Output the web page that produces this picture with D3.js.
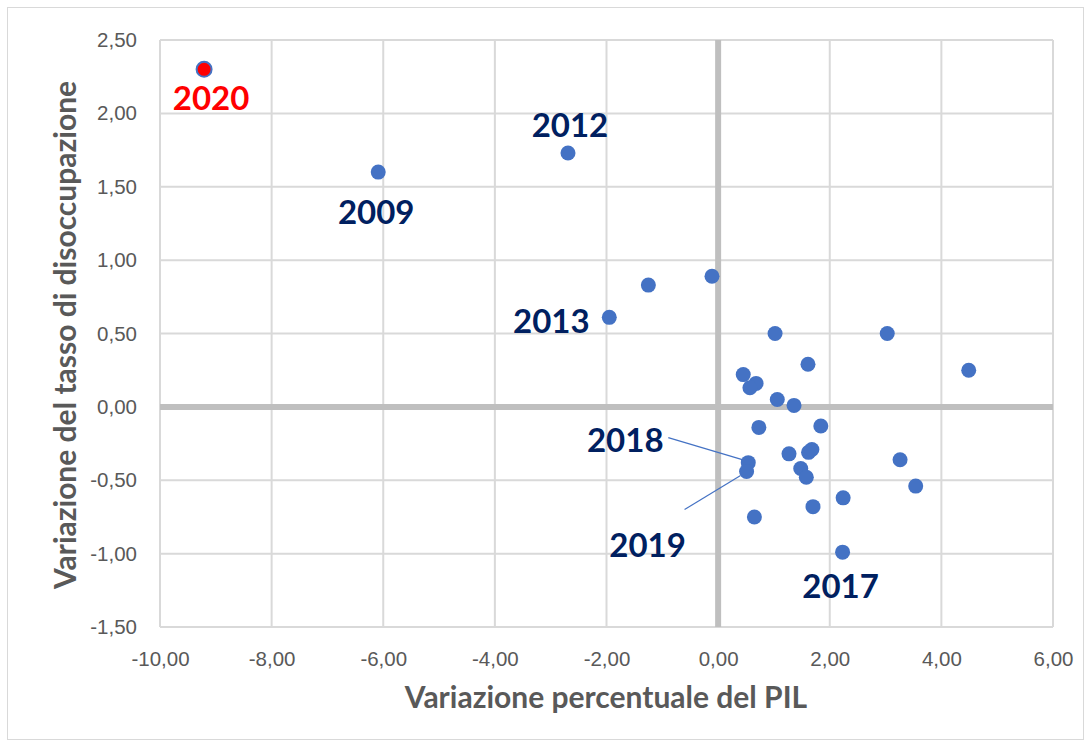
<!DOCTYPE html>
<html lang="it">
<head>
    <meta charset="UTF-8">
    <title>PIL e disoccupazione</title>
    <script src="https://d3js.org/d3.v7.min.js"></script>
    <style>
        body { margin: 0; background: #fff; font-family: Lato, "Open Sans", sans-serif; }
        svg { display: block; }
        .tick text { fill: #595959; font-size: 20.5px; }
        .axis-title { fill: #595959; font-size: 30px; font-weight: bold; }
        .year { font-size: 33px; font-weight: bold; fill: #002060; }
    </style>
</head>
<body>
    <div id="container"></div>
    <script>
        // variazione percentuale del PIL (x) e variazione del tasso di disoccupazione (y)
        const gdpChange = [-9.21, -6.09, -2.69, -1.95, -1.25, -0.11,
            1.02, 3.03, 4.49, 1.61, 0.45, 0.68, 0.57, 1.06, 1.36,
            0.73, 1.84, 1.27, 1.62, 1.68, 0.54, 0.51, 1.48, 1.58,
            3.26, 3.54, 2.24, 1.70, 0.65, 2.23];
        const unempChange = [2.30, 1.60, 1.73, 0.61, 0.83, 0.89,
            0.50, 0.50, 0.25, 0.29, 0.22, 0.16, 0.13, 0.05, 0.01,
            -0.14, -0.13, -0.32, -0.31, -0.29, -0.38, -0.44, -0.42, -0.48,
            -0.36, -0.54, -0.62, -0.68, -0.75, -0.99];

        // anni evidenziati (indice del punto)
        const labelYears = ['2020', '2009', '2012', '2013', '2018', '2019', '2017'];
        const labelIndex = [0, 1, 2, 3, 20, 21, 29];

        const xTicks = [-10, -8, -6, -4, -2, 0, 2, 4, 6];
        const yTicks = [-1.5, -1, -0.5, 0, 0.5, 1, 1.5, 2, 2.5];

        const width = 1091, height = 747;
        const plot = { left: 160, right: 1053, top: 40, bottom: 627 };

        // label offsets relative to the point (text centre, baseline)
        const labelOffset = {
            '2020': [7, 41], '2009': [-2, 52], '2012': [2, -16], '2013': [-58, 16],
            '2018': [-123, -11], '2019': [-99, 86], '2017': [-2, 46]
        };
        // leader line start points, relative to the point
        const leaderStart = { '2018': [-80, -25], '2019': [-62, 38] };

        // italian style numbers with a plain hyphen for the minus sign
        const locale = d3.formatLocale({ decimal: ',', thousands: '.', grouping: [3], currency: ['€', ''], minus: '-' });
        const fmt = locale.format('.2f');

        const svg = d3.select('#container').append('svg')
            .attr('width', width)
            .attr('height', height);

        svg.append('rect')
            .attr('x', 7.5).attr('y', 7.5)
            .attr('width', width - 15).attr('height', height - 15)
            .attr('fill', '#fff')
            .attr('stroke', '#d9d9d9')
            .attr('stroke-width', 1);

        const x = d3.scaleLinear().domain([-10, 6]).range([plot.left, plot.right]);
        const y = d3.scaleLinear().domain([-1.5, 2.5]).range([plot.bottom, plot.top]);

        // gridlines
        svg.append('g').selectAll('line')
            .data(xTicks)
            .enter().append('line')
            .attr('x1', d => x(d)).attr('x2', d => x(d))
            .attr('y1', plot.top).attr('y2', plot.bottom)
            .attr('stroke', '#d9d9d9').attr('stroke-width', 2);

        svg.append('g').selectAll('line')
            .data(yTicks)
            .enter().append('line')
            .attr('x1', plot.left).attr('x2', plot.right)
            .attr('y1', d => y(d)).attr('y2', d => y(d))
            .attr('stroke', '#d9d9d9').attr('stroke-width', 2);

        // zero axes
        svg.append('line')
            .attr('x1', x(0)).attr('x2', x(0))
            .attr('y1', plot.top).attr('y2', plot.bottom)
            .attr('stroke', '#bfbfbf').attr('stroke-width', 6);
        svg.append('line')
            .attr('x1', plot.left).attr('x2', plot.right)
            .attr('y1', y(0)).attr('y2', y(0))
            .attr('stroke', '#bfbfbf').attr('stroke-width', 6);

        // tick labels
        const xAxis = svg.append('g')
            .attr('transform', `translate(0,${plot.bottom + 14})`)
            .call(d3.axisBottom(x).tickValues(xTicks).tickFormat(fmt).tickSize(0).tickPadding(10));
        const yAxis = svg.append('g')
            .attr('transform', `translate(${plot.left - 23},0)`)
            .call(d3.axisLeft(y).tickValues(yTicks).tickFormat(fmt).tickSize(0).tickPadding(0));
        xAxis.select('.domain').remove();
        yAxis.select('.domain').remove();
        xAxis.selectAll('text').attr('font-family', null);
        yAxis.selectAll('text').attr('font-family', null);

        // axis titles
        svg.append('text')
            .attr('class', 'axis-title')
            .attr('x', 606)
            .attr('y', 708)
            .attr('text-anchor', 'middle')
            .text('Variazione percentuale del PIL');

        svg.append('text')
            .attr('class', 'axis-title')
            .attr('transform', `translate(76,335) rotate(-90)`)
            .attr('text-anchor', 'middle')
            .text('Variazione del tasso di disoccupazione');

        // leader lines
        labelYears.forEach((yr, k) => {
            if (!leaderStart[yr]) return;
            const i = labelIndex[k];
            svg.append('line')
                .attr('x1', x(gdpChange[i]) + leaderStart[yr][0])
                .attr('y1', y(unempChange[i]) + leaderStart[yr][1])
                .attr('x2', x(gdpChange[i]) - 6)
                .attr('y2', y(unempChange[i]) + (leaderStart[yr][1] < 0 ? -3 : 4))
                .attr('stroke', '#4472c4').attr('stroke-width', 1.2);
        });

        // points
        const points = gdpChange.map((v, i) => ({ gdp: v, un: unempChange[i], i: i }));
        svg.append('g').selectAll('circle')
            .data(points)
            .enter().append('circle')
            .attr('cx', d => x(d.gdp))
            .attr('cy', d => y(d.un))
            .attr('r', 7.5)
            .attr('fill', d => d.i === 0 ? '#ff0000' : '#4472c4')
            .attr('stroke', d => d.i === 0 ? '#4472c4' : 'none')
            .attr('stroke-width', 2);

        // year labels
        svg.append('g').selectAll('text')
            .data(labelYears)
            .enter().append('text')
            .attr('class', 'year')
            .attr('text-anchor', 'middle')
            .attr('x', (d, k) => x(gdpChange[labelIndex[k]]) + labelOffset[d][0])
            .attr('y', (d, k) => y(unempChange[labelIndex[k]]) + labelOffset[d][1])
            .style('fill', d => d === '2020' ? '#ff0000' : '#002060')
            .text(d => d);
    </script>
</body>
</html>
